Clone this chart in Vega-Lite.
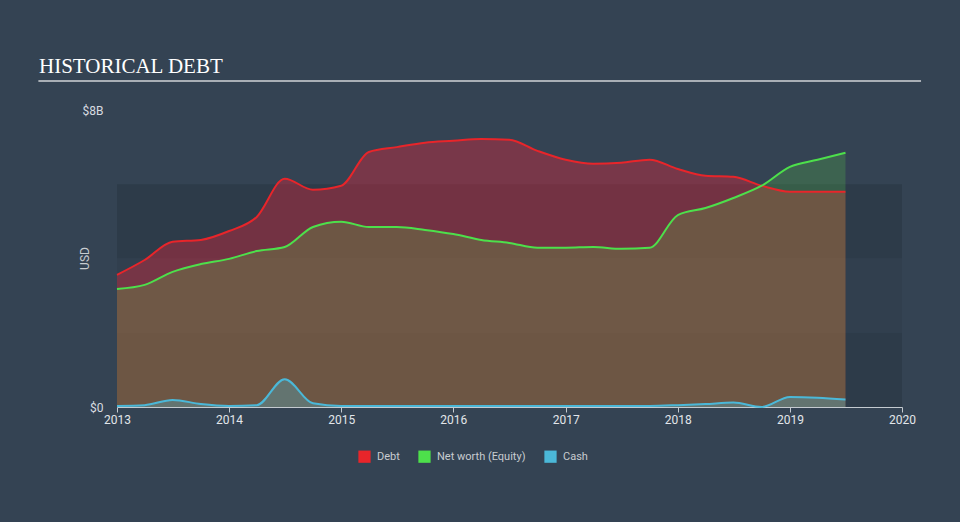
{
  "$schema": "https://vega.github.io/schema/vega-lite/v6.json",
  "width": 785,
  "height": 297,
  "autosize": {"type": "none"},
  "padding": {"left": 117, "top": 110, "right": 58, "bottom": 115},
  "background": "#344353",
  "config": {
    "view": {"stroke": null},
    "font": "Roboto"
  },
  "title": {
    "text": "HISTORICAL DEBT",
    "font": "Liberation Serif",
    "fontSize": 21,
    "fontWeight": "normal",
    "color": "#ffffff",
    "anchor": "start",
    "frame": "group",
    "dx": -78,
    "offset": 3
  },
  "datasets": {
    "series": [
      {"date": "2013-01-01", "series": "Debt", "value": 3.56},
      {"date": "2013-04-01", "series": "Debt", "value": 3.96},
      {"date": "2013-07-01", "series": "Debt", "value": 4.45},
      {"date": "2013-10-01", "series": "Debt", "value": 4.5},
      {"date": "2014-01-01", "series": "Debt", "value": 4.74},
      {"date": "2014-04-01", "series": "Debt", "value": 5.12},
      {"date": "2014-07-01", "series": "Debt", "value": 6.15},
      {"date": "2014-10-01", "series": "Debt", "value": 5.85},
      {"date": "2015-01-01", "series": "Debt", "value": 5.96},
      {"date": "2015-04-01", "series": "Debt", "value": 6.87},
      {"date": "2015-07-01", "series": "Debt", "value": 7.0},
      {"date": "2015-10-01", "series": "Debt", "value": 7.12},
      {"date": "2016-01-01", "series": "Debt", "value": 7.17},
      {"date": "2016-04-01", "series": "Debt", "value": 7.22},
      {"date": "2016-07-01", "series": "Debt", "value": 7.2},
      {"date": "2016-10-01", "series": "Debt", "value": 6.9},
      {"date": "2017-01-01", "series": "Debt", "value": 6.66},
      {"date": "2017-04-01", "series": "Debt", "value": 6.55},
      {"date": "2017-07-01", "series": "Debt", "value": 6.58},
      {"date": "2017-10-01", "series": "Debt", "value": 6.66},
      {"date": "2018-01-01", "series": "Debt", "value": 6.41},
      {"date": "2018-04-01", "series": "Debt", "value": 6.23},
      {"date": "2018-07-01", "series": "Debt", "value": 6.2},
      {"date": "2018-10-01", "series": "Debt", "value": 5.96},
      {"date": "2019-01-01", "series": "Debt", "value": 5.8},
      {"date": "2019-04-01", "series": "Debt", "value": 5.8},
      {"date": "2019-07-01", "series": "Debt", "value": 5.8},
      {"date": "2013-01-01", "series": "Net worth (Equity)", "value": 3.18},
      {"date": "2013-04-01", "series": "Net worth (Equity)", "value": 3.29},
      {"date": "2013-07-01", "series": "Net worth (Equity)", "value": 3.64},
      {"date": "2013-10-01", "series": "Net worth (Equity)", "value": 3.85},
      {"date": "2014-01-01", "series": "Net worth (Equity)", "value": 3.99},
      {"date": "2014-04-01", "series": "Net worth (Equity)", "value": 4.2},
      {"date": "2014-07-01", "series": "Net worth (Equity)", "value": 4.31},
      {"date": "2014-10-01", "series": "Net worth (Equity)", "value": 4.85},
      {"date": "2015-01-01", "series": "Net worth (Equity)", "value": 4.99},
      {"date": "2015-04-01", "series": "Net worth (Equity)", "value": 4.85},
      {"date": "2015-07-01", "series": "Net worth (Equity)", "value": 4.85},
      {"date": "2015-10-01", "series": "Net worth (Equity)", "value": 4.77},
      {"date": "2016-01-01", "series": "Net worth (Equity)", "value": 4.66},
      {"date": "2016-04-01", "series": "Net worth (Equity)", "value": 4.5},
      {"date": "2016-07-01", "series": "Net worth (Equity)", "value": 4.42},
      {"date": "2016-10-01", "series": "Net worth (Equity)", "value": 4.29},
      {"date": "2017-01-01", "series": "Net worth (Equity)", "value": 4.29},
      {"date": "2017-04-01", "series": "Net worth (Equity)", "value": 4.31},
      {"date": "2017-07-01", "series": "Net worth (Equity)", "value": 4.26},
      {"date": "2017-10-01", "series": "Net worth (Equity)", "value": 4.29},
      {"date": "2018-01-01", "series": "Net worth (Equity)", "value": 5.17},
      {"date": "2018-04-01", "series": "Net worth (Equity)", "value": 5.36},
      {"date": "2018-07-01", "series": "Net worth (Equity)", "value": 5.63},
      {"date": "2018-10-01", "series": "Net worth (Equity)", "value": 5.96},
      {"date": "2019-01-01", "series": "Net worth (Equity)", "value": 6.47},
      {"date": "2019-04-01", "series": "Net worth (Equity)", "value": 6.66},
      {"date": "2019-07-01", "series": "Net worth (Equity)", "value": 6.85},
      {"date": "2013-01-01", "series": "Cash", "value": 0.03},
      {"date": "2013-04-01", "series": "Cash", "value": 0.05},
      {"date": "2013-07-01", "series": "Cash", "value": 0.19},
      {"date": "2013-10-01", "series": "Cash", "value": 0.08},
      {"date": "2014-01-01", "series": "Cash", "value": 0.03},
      {"date": "2014-04-01", "series": "Cash", "value": 0.05},
      {"date": "2014-07-01", "series": "Cash", "value": 0.75},
      {"date": "2014-10-01", "series": "Cash", "value": 0.1},
      {"date": "2015-01-01", "series": "Cash", "value": 0.03},
      {"date": "2015-04-01", "series": "Cash", "value": 0.03},
      {"date": "2015-07-01", "series": "Cash", "value": 0.03},
      {"date": "2015-10-01", "series": "Cash", "value": 0.03},
      {"date": "2016-01-01", "series": "Cash", "value": 0.03},
      {"date": "2016-04-01", "series": "Cash", "value": 0.03},
      {"date": "2016-07-01", "series": "Cash", "value": 0.03},
      {"date": "2016-10-01", "series": "Cash", "value": 0.03},
      {"date": "2017-01-01", "series": "Cash", "value": 0.03},
      {"date": "2017-04-01", "series": "Cash", "value": 0.03},
      {"date": "2017-07-01", "series": "Cash", "value": 0.03},
      {"date": "2017-10-01", "series": "Cash", "value": 0.03},
      {"date": "2018-01-01", "series": "Cash", "value": 0.05},
      {"date": "2018-04-01", "series": "Cash", "value": 0.08},
      {"date": "2018-07-01", "series": "Cash", "value": 0.12},
      {"date": "2018-10-01", "series": "Cash", "value": 0.0},
      {"date": "2019-01-01", "series": "Cash", "value": 0.27},
      {"date": "2019-04-01", "series": "Cash", "value": 0.25},
      {"date": "2019-07-01", "series": "Cash", "value": 0.2}
    ],
    "darkBands": [{"lo": 0, "hi": 2}, {"lo": 4, "hi": 6}],
    "midBands": [{"lo": 2, "hi": 4}]
  },
  "layer": [
    {
      "data": {"name": "darkBands"},
      "mark": {"type": "rect", "color": "#2d3b49"},
      "encoding": {
        "x": {"datum": {"year": 2013, "month": 1, "date": 1}, "type": "temporal", "scale": {"domain": [{"year": 2013, "month": 1, "date": 1}, {"year": 2020, "month": 1, "date": 1}]}},
        "x2": {"datum": {"year": 2020, "month": 1, "date": 1}},
        "y": {"field": "lo", "type": "quantitative", "scale": {"domain": [0, 8]}},
        "y2": {"field": "hi"}
      }
    },
    {
      "data": {"name": "midBands"},
      "mark": {"type": "rect", "color": "#313f4e"},
      "encoding": {
        "x": {"datum": {"year": 2013, "month": 1, "date": 1}, "type": "temporal"},
        "x2": {"datum": {"year": 2020, "month": 1, "date": 1}},
        "y": {"field": "lo", "type": "quantitative"},
        "y2": {"field": "hi"}
      }
    },
    {
      "data": {"name": "series"},
      "transform": [{"filter": "datum.series === 'Debt'"}],
      "mark": {"type": "area", "interpolate": "monotone", "color": "#e8253a", "fillOpacity": 0.38},
      "encoding": {
        "x": {"field": "date", "type": "temporal"},
        "y": {"field": "value", "type": "quantitative", "stack": null}
      }
    },
    {
      "data": {"name": "series"},
      "transform": [{"filter": "datum.series === 'Net worth (Equity)'"}],
      "mark": {"type": "area", "interpolate": "monotone", "color": "#5ad04a", "fillOpacity": 0.23},
      "encoding": {
        "x": {"field": "date", "type": "temporal"},
        "y": {"field": "value", "type": "quantitative", "stack": null}
      }
    },
    {
      "data": {"name": "series"},
      "transform": [{"filter": "datum.series === 'Cash'"}],
      "mark": {"type": "area", "interpolate": "monotone", "color": "#4bb8d8", "fillOpacity": 0.3},
      "encoding": {
        "x": {"field": "date", "type": "temporal"},
        "y": {"field": "value", "type": "quantitative", "stack": null}
      }
    },
    {
      "data": {"name": "series"},
      "mark": {"type": "line", "interpolate": "monotone", "strokeWidth": 2},
      "encoding": {
        "x": {
          "field": "date",
          "type": "temporal",
          "axis": {
            "title": null,
            "format": "%Y",
            "values": [{"year": 2013}, {"year": 2014}, {"year": 2015}, {"year": 2016}, {"year": 2017}, {"year": 2018}, {"year": 2019}, {"year": 2020}],
            "grid": false,
            "domainColor": "#c4cad0",
            "tickColor": "#c4cad0",
            "tickSize": 5,
            "labelColor": "#e2e6ea",
            "labelFontSize": 12,
            "labelPadding": 2,
            "labelFlush": false
          }
        },
        "y": {
          "field": "value",
          "type": "quantitative",
          "stack": null,
          "axis": {
            "title": "USD",
            "titleColor": "#c8ccd0",
            "titleFontSize": 12,
            "titleFontWeight": "normal",
            "titleX": -33,
            "titleY": 148,
            "titleAngle": -90,
            "titleAlign": "center",
            "titleBaseline": "middle",
            "values": [0, 8],
            "labelExpr": "datum.value == 0 ? '$0' : '$8B'",
            "labelColor": "#d8dce0",
            "labelFontSize": 12,
            "labelPadding": 14,
            "labelFlush": false,
            "labelBaseline": "middle",
            "grid": false,
            "domain": false,
            "ticks": false
          }
        },
        "color": {
          "field": "series",
          "type": "nominal",
          "scale": {"domain": ["Debt", "Net worth (Equity)", "Cash"], "range": ["#e8252a", "#4de04b", "#4bb8d8"]},
          "legend": {
            "title": null,
            "orient": "none",
            "legendX": 241,
            "legendY": 340,
            "direction": "horizontal",
            "symbolType": "square",
            "symbolSize": 150,
            "symbolStrokeWidth": 0,
            "labelColor": "#c8ccd0",
            "labelFontSize": 11,
            "labelOffset": 6,
            "columnPadding": 18,
            "encode": {"symbols": {"update": {"fill": {"scale": "color", "field": "value"}, "fillOpacity": {"value": 1}}}}
          }
        }
      }
    },
    {
      "data": {"values": [{}]},
      "mark": {"type": "rule", "color": "#a9afb6", "strokeWidth": 2},
      "encoding": {
        "x": {"datum": {"year": 2012, "month": 4, "date": 20}, "type": "temporal"},
        "x2": {"datum": {"year": 2020, "month": 3, "date": 3}},
        "y": {"datum": 8.78, "type": "quantitative"}
      }
    }
  ]
}
